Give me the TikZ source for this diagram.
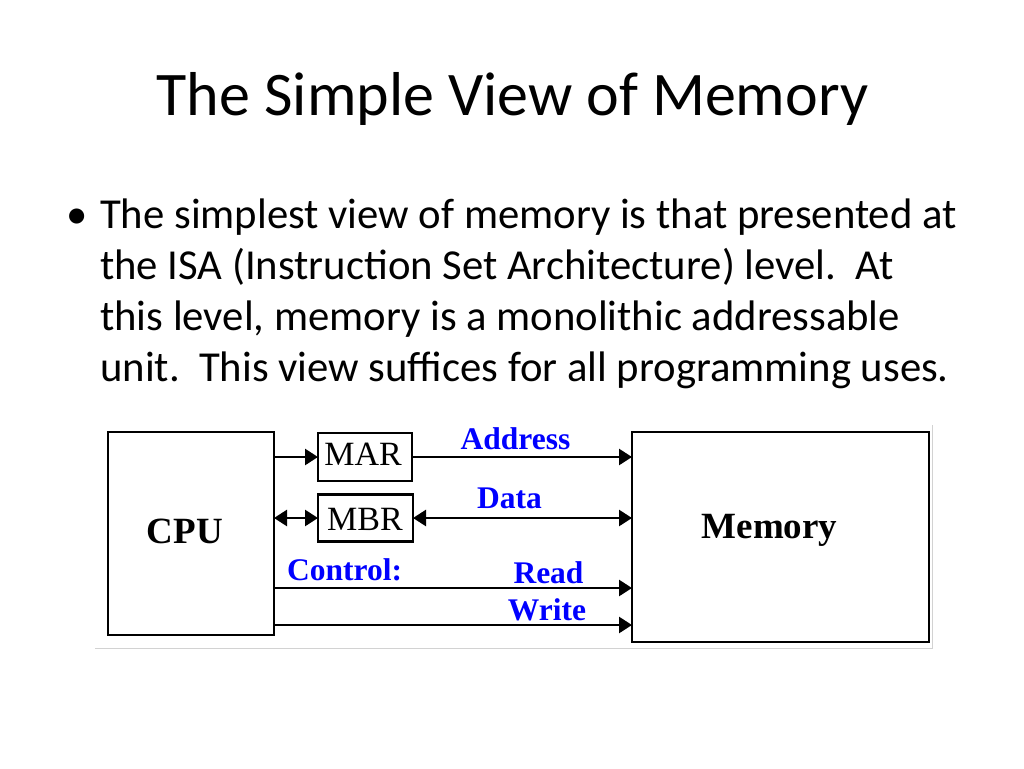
\documentclass[tikz,border=0pt]{standalone}
\usepackage{fontspec}
\setmainfont{Carlito}
\newfontfamily\tms{Liberation Serif}
\usetikzlibrary{arrows.meta}
\begin{document}
\begin{tikzpicture}[x=1pt,y=-1pt,
  box/.style={draw=black,line width=2.6pt,inner sep=0pt,outer sep=0pt,fill=white},
  conn/.style={line width=2.6pt,draw=black},
  tip/.tip={Triangle[length=13pt,width=16pt]},
  arr/.style={conn,-tip},
  darr/.style={conn,tip-tip},
  lbl/.style={text=blue,font=\tms\bfseries\fontsize{31.5}{32}\selectfont,inner sep=0pt,anchor=base},
  reg/.style={font=\tms\fontsize{34}{34}\selectfont,inner sep=0pt,anchor=base},
  big/.style={font=\tms\bfseries\fontsize{37}{37}\selectfont,inner sep=0pt,anchor=base},
  bodyline/.style={font=\fontsize{42.7}{42.7}\selectfont,anchor=base west,inner sep=0pt}]
\useasboundingbox[fill=white] (0,0) rectangle (1024,768);
% title
\node[font=\fontsize{62}{62}\selectfont,anchor=base,inner sep=0pt] (title) at (512.5,115) {The Simple View of Memory};
% bullet
\node[font=\fontsize{42.7}{42.7}\selectfont,anchor=base,inner sep=0pt] (bul) at (77,228) {•};
\node[bodyline] (body1) at (100,228) {The simplest view of memory is that presented at};
\node[bodyline] (body2) at (100,279) {the ISA (Instruction Set Architecture) level.\ \ At};
\node[bodyline] (body3) at (100,330) {this level, memory is a monolithic addressable};
\node[bodyline] (body4) at (100,381) {unit.\ \ This view suffices for all programming uses.};
% frame lines (light grey)
\draw[gray!35,line width=1pt] (95,648) -- (932,648) -- (932,425);
% boxes
\node[box,minimum width=166pt,minimum height=203pt] (CPU) at (191,533.5) {};
\node[box,minimum width=94pt,minimum height=48pt] (MAR) at (365,457) {};
\node[box,minimum width=95pt,minimum height=47pt] (MBR) at (365.5,518) {};
\node[box,minimum width=297pt,minimum height=210pt] (MEM) at (780.5,537) {};
% box texts
\node[big] (cputxt) at (185,543) {CPU};
\node[big] (memtxt) at (769.5,538) {Memory};
\node[reg] (martxt) at (363,465) {MAR};
\node[reg] (mbrtxt) at (365,530) {MBR};
% connectors
\draw[arr] (CPU.east |- MAR.west) -- (MAR.west);
\draw[arr] (MAR.east) -- (MAR.east -| MEM.west);
\draw[darr] (CPU.east |- MBR.west) -- (MBR.west);
\draw[darr] (MBR.east) -- (MBR.east -| MEM.west);
\coordinate (r1) at ([yshift=-54.5pt]CPU.east);
\coordinate (r1m) at (r1 -| MEM.west);
\coordinate (w1) at ([yshift=-91.5pt]CPU.east);
\coordinate (w1m) at (w1 -| MEM.west);
\draw[arr] (r1) -- (r1m);
\draw[arr] (w1) -- (w1m);
% labels
\node[lbl] (laddr) at (515.5,449) {Address};
\node[lbl] (ldata) at (509.5,508) {Data};
\node[lbl,anchor=base west] (lctrl) at (287,580) {Control:};
\node[lbl] (lread) at (548.5,583) {Read};
\node[lbl] (lwrite) at (547,620) {Write};
\end{tikzpicture}
\end{document}
